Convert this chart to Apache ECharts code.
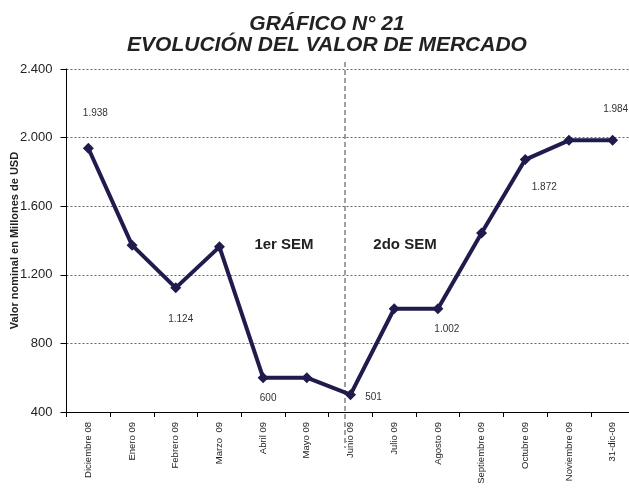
<!DOCTYPE html>
<html>
<head>
<meta charset="utf-8">
<script src="https://cdn.jsdelivr.net/npm/echarts@6/dist/echarts.min.js"></script>
<style>
html, body { margin: 0; padding: 0; background: #fff; }
#chart { width: 629px; height: 492px; }
</style>
</head>
<body>
<div id="chart"></div>
<script>
// meses del grafico
const months = ["Diciembre 08", "Enero 09", "Febrero 09", "Marzo  09", "Abril 09", "Mayo 09", "Junio 09",
    "Julio 09", "Agosto 09", "Septiembre 09", "Octubre 09", "Noviembre 09", "31-dic-09"];
// valor de mercado (millones USD)
const values = [1938, 1373, 1124, 1363, 600, 600, 501, 1002, 1002, 1444, 1872, 1984, 1984];
const yTicks = [400, 800, 1200, 1600, 2000, 2400];
const shownLabels = [0, 2, 4, 6, 8, 10, 12];

const fmt = v => v >= 1000 ? Math.floor(v / 1000) + "." + String(v % 1000).padStart(3, "0") : String(v);

// where each value label sits relative to its point
const labelOffsets = { 0: [7, -35], 2: [5, 31], 4: [5, 21], 6: [23, 3], 8: [9, 20], 10: [19, 28], 12: [3, -31] };

const chart = echarts.init(document.getElementById("chart"));
const font = "Liberation Sans, Arial, sans-serif";

chart.setOption({
    animation: false,
    backgroundColor: "#fff",
    title: {
        text: "GRÁFICO N° 21\nEVOLUCIÓN DEL VALOR DE MERCADO",
        left: 322,
        top: 9,
        textAlign: "center",
        textStyle: {
            fontFamily: font,
            fontSize: 21,
            fontWeight: "bold",
            fontStyle: "italic",
            color: "#222",
            lineHeight: 21
        }
    },
    grid: { left: 66.5, top: 69, width: 568, height: 343, containLabel: false, outerBoundsMode: "none" },
    xAxis: {
        type: "category",
        data: months,
        boundaryGap: true,
        axisLine: { lineStyle: { color: "#000", width: 1 } },
        axisTick: { show: true, length: 5, lineStyle: { color: "#000" } },
        axisLabel: { rotate: 90, margin: 10, fontSize: 9.5, color: "#222", fontFamily: font, interval: 0 },
        splitLine: { show: false }
    },
    yAxis: {
        type: "value",
        min: yTicks[0],
        max: yTicks[yTicks.length - 1],
        interval: 400,
        name: "Valor nominal en Millones de USD",
        nameLocation: "middle",
        nameRotate: 90,
        nameGap: 46,
        nameMoveOverlap: false,
        nameTextStyle: { fontSize: 11, fontWeight: "bold", color: "#222", fontFamily: font },
        axisLine: { show: true, lineStyle: { color: "#000", width: 1 } },
        axisTick: { show: true, length: 6, lineStyle: { color: "#000" } },
        axisLabel: { fontSize: 13, color: "#222", margin: 14, fontFamily: font, formatter: fmt },
        splitLine: { show: true, lineStyle: { color: "#666", width: 1, type: [2, 2] } }
    },
    graphic: [
        { type: "line", shape: { x1: 345, y1: 62, x2: 345, y2: 448 }, style: { stroke: "#444", lineWidth: 1, lineDash: [5, 3] }, z: 1 },
        { type: "text", x: 284, y: 245, style: { text: "1er SEM", font: "bold 15px " + font, fill: "#222", textAlign: "center", textVerticalAlign: "middle" } },
        { type: "text", x: 405, y: 245, style: { text: "2do SEM", font: "bold 15px " + font, fill: "#222", textAlign: "center", textVerticalAlign: "middle" } }
    ],
    series: [{
        type: "line",
        data: values.map((v, i) => ({
            value: v,
            label: shownLabels.includes(i)
                ? { show: true, position: "inside", offset: labelOffsets[i], formatter: p => fmt(p.value) }
                : { show: false }
        })),
        symbol: "diamond",
        symbolSize: 11,
        lineStyle: { color: "#1f1b4d", width: 4 },
        itemStyle: { color: "#1f1b4d" },
        label: { fontSize: 10, color: "#333", fontFamily: font },
        z: 3
    }]
});
</script>
</body>
</html>
